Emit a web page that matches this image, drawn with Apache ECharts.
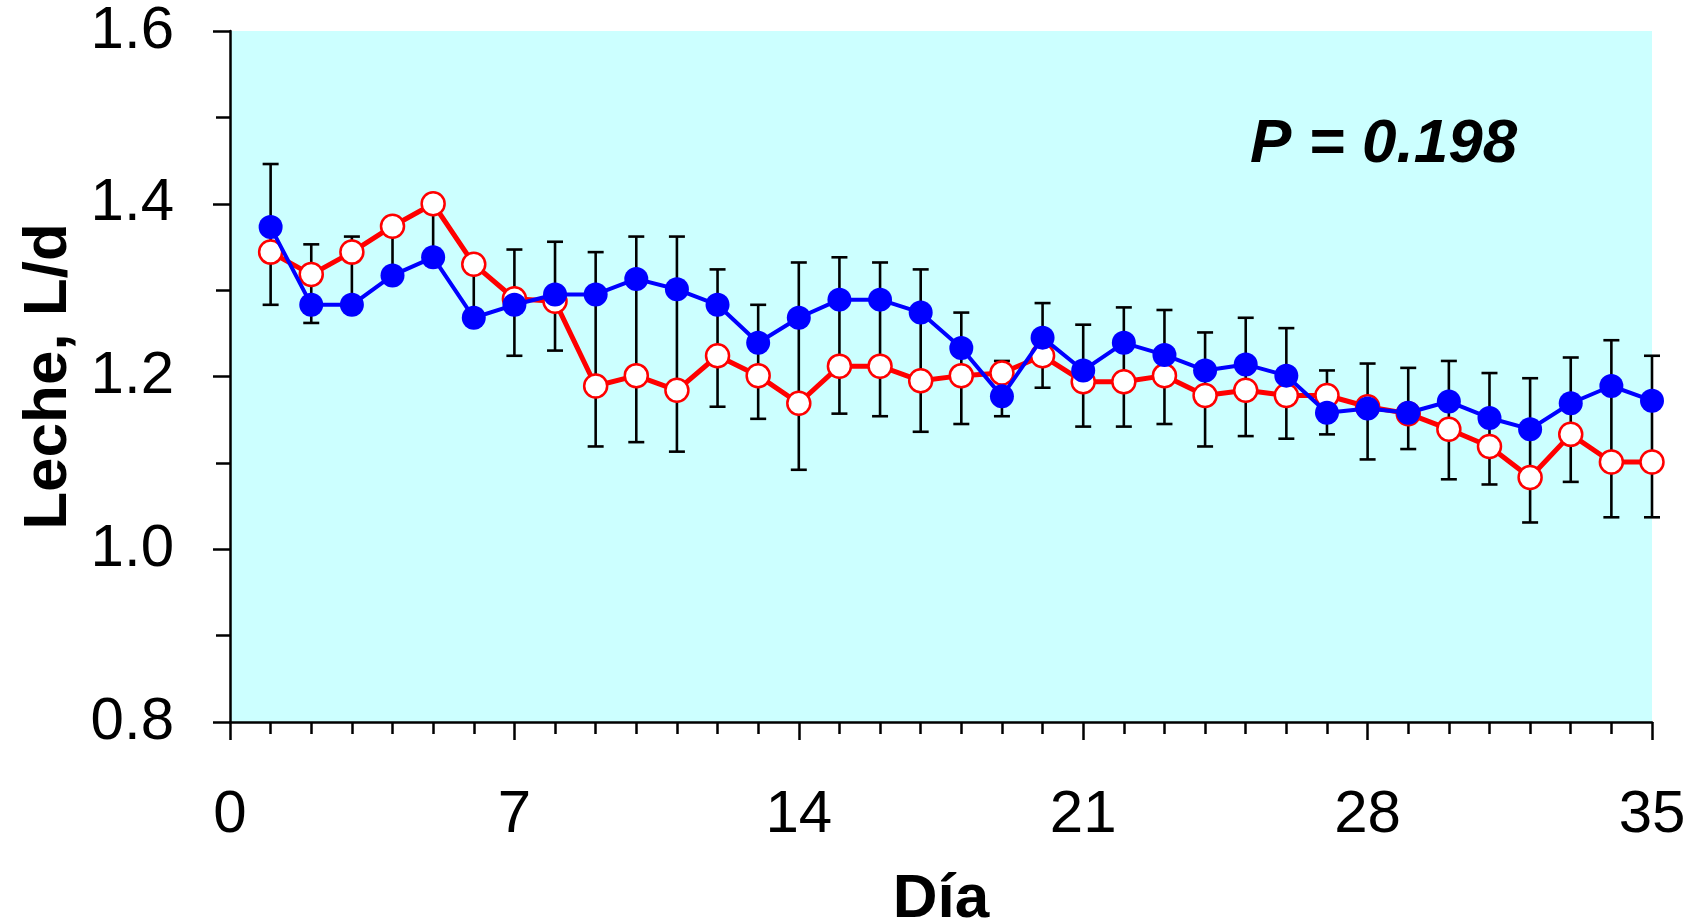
<!DOCTYPE html>
<html>
<head>
<meta charset="utf-8">
<script src="https://cdn.jsdelivr.net/npm/echarts@6/dist/echarts.min.js"></script>
<style>
  html, body { margin: 0; padding: 0; background: #fff; }
  #chart { width: 1700px; height: 919px; }
</style>
</head>
<body>
<div id="chart"></div>
<script>
// días de lactancia
var dias = [1, 2, 3, 4, 5, 6, 7, 8, 9, 10, 11, 12, 13, 14, 15, 16, 17, 18,
  19, 20, 21, 22, 23, 24, 25, 26, 27, 28, 29, 30, 31, 32, 33, 34, 35];

// serie de círculos llenos (azul)
var lecheAzul = [1.373, 1.283, 1.283, 1.317, 1.338, 1.268, 1.283, 1.295, 1.295, 1.313,
  1.301, 1.283, 1.239, 1.268, 1.289, 1.289, 1.274, 1.233, 1.177, 1.245,
  1.207, 1.239, 1.225, 1.207, 1.214, 1.201, 1.158, 1.163, 1.158, 1.171,
  1.152, 1.139, 1.169, 1.189, 1.172];

// serie de círculos abiertos (rojo)
var lecheRoja = [1.344, 1.318, 1.344, 1.374, 1.400, 1.330, 1.290, 1.287, 1.189, 1.201,
  1.184, 1.224, 1.201, 1.169, 1.212, 1.212, 1.195, 1.201, 1.204, 1.224,
  1.194, 1.194, 1.201, 1.178, 1.184, 1.178, 1.178, 1.165, 1.157, 1.139,
  1.119, 1.083, 1.133, 1.101, 1.101];

// extremos visibles de las barras de error
var errAlto = [1.446, 1.353, 1.362, 1.374, 1.400, 1.330, 1.347, 1.356, 1.344, 1.362,
  1.362, 1.324, 1.283, 1.332, 1.338, 1.332, 1.324, 1.274, 1.218, 1.285,
  1.260, 1.280, 1.277, 1.251, 1.268, 1.256, 1.207, 1.215, 1.210, 1.218,
  1.204, 1.198, 1.222, 1.242, 1.224];
var errBajo = [1.283, 1.262, 1.283, 1.317, 1.329, 1.277, 1.224, 1.230, 1.119, 1.124,
  1.113, 1.165, 1.151, 1.092, 1.157, 1.154, 1.136, 1.145, 1.154, 1.187,
  1.142, 1.142, 1.145, 1.119, 1.131, 1.128, 1.133, 1.104, 1.116, 1.081,
  1.075, 1.031, 1.078, 1.037, 1.037];

var textoP = 'P = 0.198';

var fuente = 'Liberation Sans, Arial, sans-serif';

var chart = echarts.init(document.getElementById('chart'));

var option = {
  animation: false,
  backgroundColor: '#fff',
  grid: {
    left: 230,
    right: 48,
    top: 31,
    bottom: 197,
    outerBoundsMode: 'none',
    containLabel: false,
    show: true,
    backgroundColor: '#CCFFFF',
    borderWidth: 0
  },
  xAxis: {
    type: 'value',
    min: 0,
    max: 35,
    interval: 7,
    name: 'Día',
    nameLocation: 'middle',
    nameGap: 147,
    nameTextStyle: { fontFamily: fuente, fontSize: 62, fontWeight: 'bold', color: '#000' },
    axisLine: { show: true, onZero: false, lineStyle: { color: '#000', width: 2.5 } },
    axisTick: { show: true, length: 18, lineStyle: { color: '#000', width: 2.5 } },
    minorTick: { show: true, splitNumber: 7, length: 12, lineStyle: { color: '#000', width: 2.5 } },
    axisLabel: { fontFamily: fuente, fontSize: 60, color: '#000', margin: 63 },
    splitLine: { show: false }
  },
  yAxis: {
    type: 'value',
    min: 0.8,
    max: 1.6,
    interval: 0.2,
    name: 'Leche, L/d',
    nameLocation: 'middle',
    nameGap: 147,
    nameTextStyle: { fontFamily: fuente, fontSize: 62, fontWeight: 'bold', color: '#000' },
    axisLine: { show: true, lineStyle: { color: '#000', width: 2.5 } },
    axisTick: { show: true, length: 17, lineStyle: { color: '#000', width: 2.5 } },
    minorTick: { show: true, splitNumber: 2, length: 14, lineStyle: { color: '#000', width: 2.5 } },
    axisLabel: {
      fontFamily: fuente, fontSize: 60, color: '#000', margin: 56,
      formatter: function (v) { return v.toFixed(1); }
    },
    splitLine: { show: false }
  },
  graphic: [{
    type: 'text',
    x: 1250,
    y: 145,
    z: 100,
    style: {
      text: textoP,
      font: 'italic bold 62px ' + fuente,
      fill: '#000',
      align: 'left',
      verticalAlign: 'middle'
    }
  }],
  series: [
    {
      // barras de error
      type: 'custom',
      z: 1,
      renderItem: function (params, api) {
        var arriba = api.coord([api.value(0), api.value(2)]);
        var abajo = api.coord([api.value(0), api.value(1)]);
        var w = 8;
        var estilo = { stroke: '#000', lineWidth: 2.6 };
        return {
          type: 'group',
          children: [
            { type: 'line', shape: { x1: arriba[0], y1: arriba[1], x2: abajo[0], y2: abajo[1] }, style: estilo },
            { type: 'line', shape: { x1: arriba[0] - w, y1: arriba[1], x2: arriba[0] + w, y2: arriba[1] }, style: estilo },
            { type: 'line', shape: { x1: abajo[0] - w, y1: abajo[1], x2: abajo[0] + w, y2: abajo[1] }, style: estilo }
          ]
        };
      },
      encode: { x: 0, y: [1, 2] },
      data: dias.map(function (d, i) { return [d, errBajo[i], errAlto[i]]; })
    },
    {
      name: 'abierto',
      type: 'line',
      z: 2,
      symbol: 'circle',
      symbolSize: 23,
      showAllSymbol: true,
      lineStyle: { color: '#FF0000', width: 5 },
      itemStyle: { color: '#FFFFFF', borderColor: '#FF0000', borderWidth: 2.5 },
      data: dias.map(function (d, i) { return [d, lecheRoja[i]]; })
    },
    {
      name: 'lleno',
      type: 'line',
      z: 3,
      symbol: 'circle',
      symbolSize: 24,
      showAllSymbol: true,
      lineStyle: { color: '#0000FF', width: 4 },
      itemStyle: { color: '#0000FF', borderWidth: 0 },
      data: dias.map(function (d, i) { return [d, lecheAzul[i]]; })
    }
  ]
};

chart.setOption(option);
</script>
</body>
</html>
